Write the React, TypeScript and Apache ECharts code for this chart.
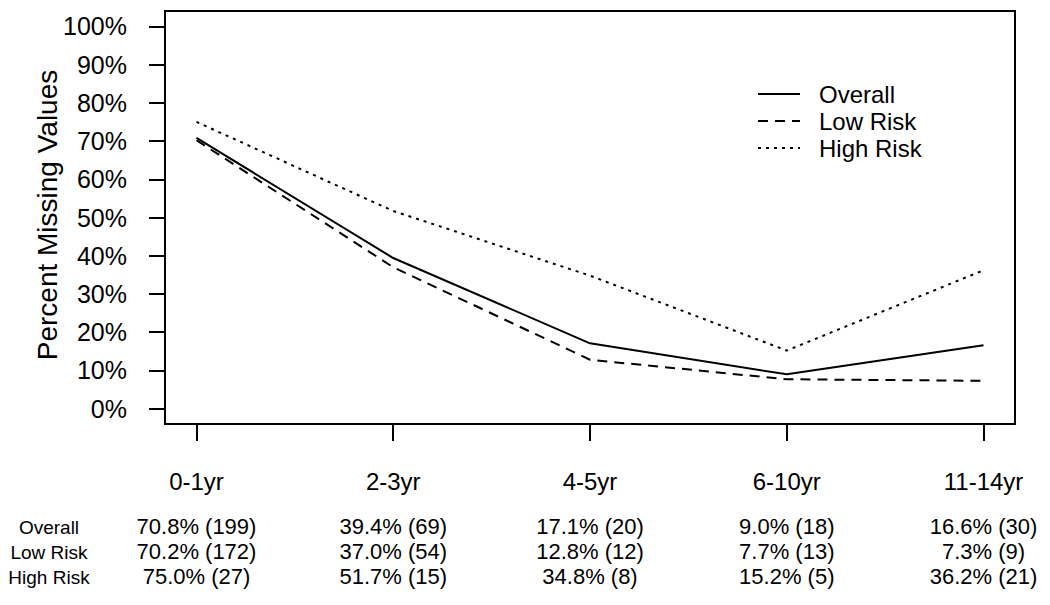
import React, { useEffect, useRef } from "react";
import * as echarts from "echarts";

const categories = ["0-1yr", "2-3yr", "4-5yr", "6-10yr", "11-14yr"];
const xPositions = [1, 2, 3, 4, 5];
const overallPct = [70.8, 39.4, 17.1, 9.0, 16.6];
const lowRiskPct = [70.2, 37.0, 12.8, 7.7, 7.3];
const highRiskPct = [75.0, 51.7, 34.8, 15.2, 36.2];
const overallN = [199, 69, 20, 18, 30];
const lowRiskN = [172, 54, 12, 13, 9];
const highRiskN = [27, 15, 8, 5, 21];
const yTicks = [0, 10, 20, 30, 40, 50, 60, 70, 80, 90, 100];
const seriesNames = ["Overall", "Low Risk", "High Risk"];

const FONT = "'Liberation Sans', Arial, Helvetica, sans-serif";

export default function App() {
  const ref = useRef<HTMLDivElement>(null);
  useEffect(() => {
    if (!ref.current) return;
    const chart = echarts.init(ref.current, null, { renderer: "svg" });
    const fmt = (p: number, n: number) => `${p.toFixed(1)}% (${n})`;
    const pts = (arr: number[]) => arr.map((v, i) => [xPositions[i], v]);
    const lineBase = { type: "line", symbol: "none", silent: true };
    chart.setOption({
      animation: false,
      backgroundColor: "#ffffff",
      textStyle: { fontFamily: FONT, color: "#000" },
      grid: {
        left: 165,
        right: 35,
        top: 11,
        bottom: 181,
        show: true,
        borderColor: "#000",
        borderWidth: 2,
        backgroundColor: "transparent",
      },
      legend: {
        orient: "vertical",
        left: 752,
        top: 77,
        itemWidth: 42,
        itemHeight: 14,
        itemGap: 3,
        data: seriesNames,
        itemStyle: { opacity: 0 },
        textStyle: { fontFamily: FONT, fontSize: 24, color: "#000", padding: [0, 0, 0, 14] },
      },
      xAxis: {
        type: "value",
        min: 0.84,
        max: 5.16,
        splitLine: { show: false },
        axisLine: { show: true, onZero: false, lineStyle: { color: "#000", width: 2 } },
        axisTick: {
          show: true,
          customValues: xPositions,
          length: 17,
          lineStyle: { color: "#000", width: 2 },
        },
        axisLabel: {
          customValues: xPositions,
          margin: 25,
          color: "#000",
          fontFamily: FONT,
          formatter: (v: number) => {
            const i = Math.round(v) - 1;
            return `{c|${categories[i]}}\n{v|${fmt(overallPct[i], overallN[i])}}\n{v|${fmt(
              lowRiskPct[i],
              lowRiskN[i]
            )}}\n{v|${fmt(highRiskPct[i], highRiskN[i])}}`;
          },
          rich: {
            c: { fontSize: 24, lineHeight: 65, fontFamily: FONT, color: "#000" },
            v: { fontSize: 22, lineHeight: 25, fontFamily: FONT, color: "#000" },
          },
        },
      },
      yAxis: {
        type: "value",
        min: -4,
        max: 104,
        splitLine: { show: false },
        axisLine: { show: true, onZero: false, lineStyle: { color: "#000", width: 2 } },
        axisTick: {
          show: true,
          customValues: yTicks,
          length: 16,
          lineStyle: { color: "#000", width: 2 },
        },
        axisLabel: {
          customValues: yTicks,
          margin: 38,
          fontSize: 25,
          color: "#000",
          fontFamily: FONT,
          formatter: (v: number) => `${v}%`,
        },
      },
      graphic: [
        {
          type: "text",
          x: 47,
          y: 215,
          rotation: Math.PI / 2,
          style: {
            text: "Percent Missing Values",
            fontSize: 28,
            fontFamily: FONT,
            fill: "#000",
            align: "center",
            verticalAlign: "middle",
          },
        },
        ...seriesNames.map((name, k) => ({
          type: "text",
          x: 49,
          y: 527 + k * 25,
          style: {
            text: name,
            fontSize: 19,
            fontFamily: FONT,
            fill: "#000",
            align: "center",
            verticalAlign: "middle",
          },
        })),
      ],
      series: [
        {
          ...lineBase,
          name: seriesNames[0],
          data: pts(overallPct),
          lineStyle: { color: "#000", width: 2, type: "solid" },
          itemStyle: { color: "#000" },
        },
        {
          ...lineBase,
          name: seriesNames[1],
          data: pts(lowRiskPct),
          lineStyle: { color: "#000", width: 2, type: [10, 7] },
          itemStyle: { color: "#000" },
        },
        {
          ...lineBase,
          name: seriesNames[2],
          data: pts(highRiskPct),
          lineStyle: { color: "#000", width: 2, type: [3, 5] },
          itemStyle: { color: "#000" },
        },
      ],
    });
    return () => chart.dispose();
  }, []);
  return (
    <div
      ref={ref}
      style={{ width: 1050, height: 605, position: "absolute", left: 0, top: 0 }}
    />
  );
}
